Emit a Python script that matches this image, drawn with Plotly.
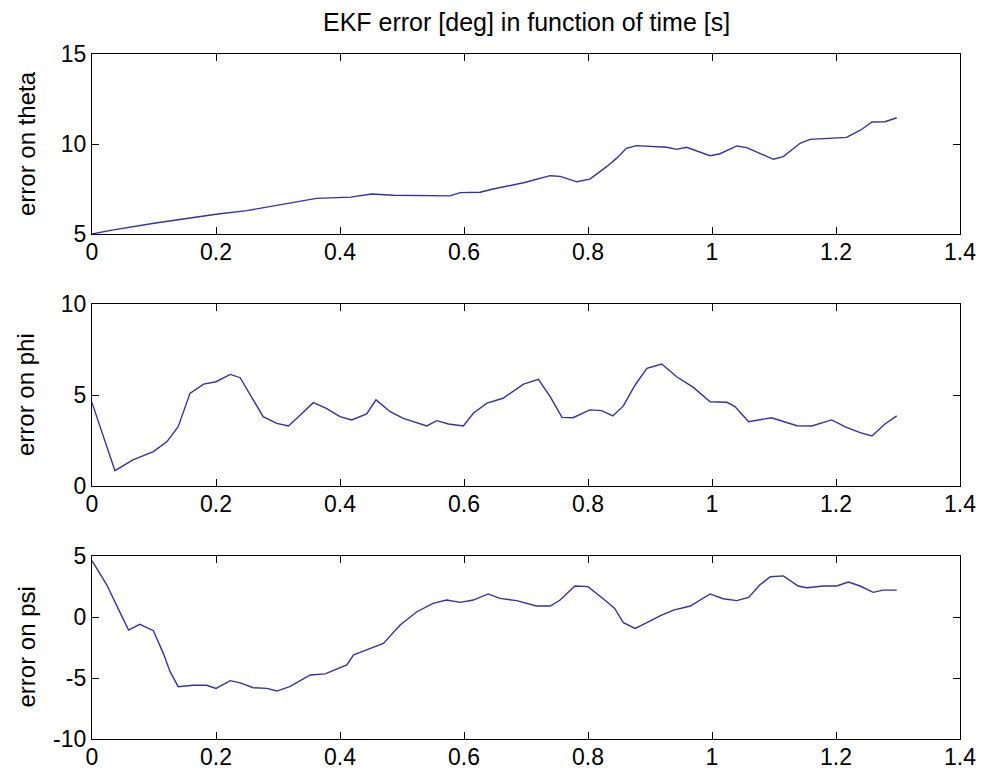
import plotly.graph_objects as go

# EKF attitude error traces, time in seconds, errors in degrees
t_theta = [0.0, 0.03, 0.1, 0.2, 0.25, 0.3, 0.362, 0.417, 0.451, 0.486, 0.577, 0.594, 0.626,
           0.647, 0.696, 0.739, 0.755, 0.782, 0.803, 0.830, 0.846, 0.862, 0.878, 0.927,
           0.943, 0.959, 0.997, 1.013, 1.040, 1.056, 1.083, 1.099, 1.115, 1.142, 1.158,
           1.185, 1.217, 1.240, 1.258, 1.279, 1.298]
theta_err = [5.0, 5.2, 5.6, 6.1, 6.3, 6.6, 6.98, 7.05, 7.22, 7.15, 7.12, 7.3, 7.32,
             7.5, 7.85, 8.24, 8.2, 7.9, 8.05, 8.74, 9.2, 9.76, 9.91, 9.82,
             9.7, 9.82, 9.35, 9.46, 9.89, 9.8, 9.39, 9.15, 9.3, 10.04, 10.26,
             10.3, 10.37, 10.78, 11.22, 11.24, 11.46]

t_phi = [0.0, 0.037, 0.066, 0.099, 0.121, 0.139, 0.158, 0.180, 0.2, 0.223, 0.239, 0.255,
         0.276, 0.298, 0.317, 0.336, 0.357, 0.378, 0.4, 0.419, 0.443, 0.458, 0.481,
         0.502, 0.540, 0.556, 0.575, 0.599, 0.615, 0.637, 0.663, 0.696, 0.720, 0.739,
         0.758, 0.776, 0.803, 0.822, 0.840, 0.857, 0.876, 0.895, 0.919, 0.943, 0.970,
         0.997, 1.024, 1.037, 1.059, 1.096, 1.137, 1.161, 1.193, 1.215, 1.239, 1.258,
         1.279, 1.298]
phi_err = [4.58, 0.84, 1.43, 1.89, 2.44, 3.26, 5.09, 5.6, 5.73, 6.13, 5.95, 5.0,
           3.81, 3.44, 3.3, 3.9, 4.58, 4.27, 3.81, 3.63, 3.96, 4.73, 4.08,
           3.72, 3.3, 3.59, 3.41, 3.3, 4.0, 4.55, 4.82, 5.6, 5.86, 4.91,
           3.77, 3.75, 4.18, 4.14, 3.85, 4.4, 5.55, 6.47, 6.7, 6.0, 5.42,
           4.63, 4.6, 4.36, 3.53, 3.75, 3.31, 3.3, 3.63, 3.25, 2.93, 2.75,
           3.41, 3.85]

t_psi = [0.0, 0.024, 0.042, 0.059, 0.077, 0.099, 0.115, 0.126, 0.139, 0.163, 0.185, 0.2,
         0.223, 0.239, 0.260, 0.282, 0.298, 0.319, 0.352, 0.376, 0.411, 0.422, 0.443,
         0.470, 0.497, 0.524, 0.550, 0.572, 0.594, 0.615, 0.639, 0.658, 0.685, 0.717,
         0.739, 0.755, 0.779, 0.800, 0.827, 0.843, 0.857, 0.876, 0.895, 0.916, 0.938,
         0.965, 0.997, 1.018, 1.040, 1.059, 1.077, 1.094, 1.115, 1.139, 1.153, 1.180,
         1.201, 1.220, 1.239, 1.260, 1.276, 1.298]
psi_err = [4.62, 2.62, 0.71, -1.07, -0.6, -1.12, -2.98, -4.48, -5.71, -5.6, -5.6, -5.85,
           -5.22, -5.4, -5.8, -5.85, -6.07, -5.71, -4.75, -4.66, -3.93, -3.11, -2.7,
           -2.16, -0.66, 0.43, 1.12, 1.39, 1.2, 1.39, 1.89, 1.53, 1.34, 0.9,
           0.9, 1.39, 2.54, 2.49, 1.39, 0.71, -0.47, -0.93, -0.47, 0.1, 0.56,
           0.9, 1.89, 1.5, 1.34, 1.6, 2.62, 3.3, 3.37, 2.54, 2.4, 2.54,
           2.54, 2.87, 2.54, 2.02, 2.2, 2.2]

x_ticks = [0, 0.2, 0.4, 0.6, 0.8, 1.0, 1.2, 1.4]
x_tick_text = ["0", "0.2", "0.4", "0.6", "0.8", "1", "1.2", "1.4"]
theta_ticks = [5, 10, 15]
phi_ticks = [0, 5, 10]
psi_ticks = [-10, -5, 0, 5]

panels = [
    ("error on theta", t_theta, theta_err, theta_ticks),
    ("error on phi", t_phi, phi_err, phi_ticks),
    ("error on psi", t_psi, psi_err, psi_ticks),
]

W, H = 981, 771
x_left, x_right = 92, 960
# top / bottom pixel rows of each panel
rows = [(54, 234), (304, 486), (556, 739)]

font_family = "Liberation Sans, Arial, sans-serif"
line_color = "#3333a0"

fig = go.Figure()
layout = dict(
    width=W, height=H,
    margin=dict(l=0, r=0, t=0, b=0, autoexpand=False),
    paper_bgcolor="white", plot_bgcolor="white",
    showlegend=False,
    font=dict(family=font_family, color="black"),
)

annotations = []
for i, ((label, t, y, yt), (top, bot)) in enumerate(zip(panels, rows)):
    n = "" if i == 0 else str(i + 1)
    xa, ya = "x" + n, "y" + n
    fig.add_trace(go.Scatter(x=t, y=y, mode="lines", xaxis=xa, yaxis=ya,
                             line=dict(color=line_color, width=1.4)))
    common = dict(showgrid=False, zeroline=False, showline=True, linecolor="black",
                  linewidth=1.3, mirror="ticks", ticks="inside", ticklen=7,
                  tickcolor="black", tickwidth=1.3, automargin=False,
                  tickfont=dict(family=font_family, size=23, color="black"))
    layout["xaxis" + n] = dict(
        domain=[x_left / W, x_right / W], range=[0, 1.4], anchor=ya,
        tickvals=x_ticks, ticktext=x_tick_text, ticklabelstandoff=-3, **common)
    layout["yaxis" + n] = dict(
        domain=[1 - bot / H, 1 - top / H], range=[yt[0], yt[-1]], anchor=xa,
        tickvals=yt, ticktext=[str(v) for v in yt], **common)
    annotations.append(dict(
        text=label, xref="paper", yref="paper", x=26 / W, y=1 - (top + bot) / 2 / H,
        textangle=-90, showarrow=False, xanchor="center", yanchor="middle",
        font=dict(family=font_family, size=24, color="black")))

annotations.append(dict(
    text="EKF error [deg] in function of time [s]", xref="paper", yref="paper",
    x=526 / W, y=1 - 22 / H, showarrow=False, xanchor="center", yanchor="middle",
    font=dict(family=font_family, size=25, color="black")))

layout["annotations"] = annotations
fig.update_layout(**layout)
fig.write_html("out.html")
